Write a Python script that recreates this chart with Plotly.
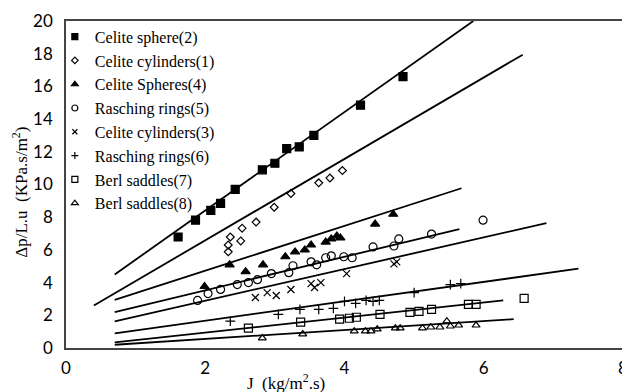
import plotly.graph_objects as go

# ---------------- data ----------------
names = ["Celite sphere(2)", "Celite cylinders(1)", "Celite Spheres(4)", "Rasching rings(5)",
         "Celite cylinders(3)", "Rasching rings(6)", "Berl saddles(7)", "Berl saddles(8)"]

sphere2_x = [1.61, 1.86, 2.08, 2.22, 2.43, 2.82, 3.00, 3.17, 3.35, 3.56, 4.23, 4.84]
sphere2_y = [6.79, 7.82, 8.42, 8.85, 9.70, 10.9, 11.3, 12.2, 12.3, 13.0, 14.85, 16.6]

cyl1_x = [2.33, 2.33, 2.36, 2.51, 2.53, 2.73, 2.99, 3.23, 3.63, 3.79, 3.97]
cyl1_y = [5.88, 6.30, 6.79, 6.55, 7.33, 7.70, 8.61, 9.45, 10.1, 10.4, 10.85]

sph4_x = [1.99, 2.35, 2.58, 2.83, 3.15, 3.29, 3.43, 3.52, 3.73, 3.81, 3.89, 3.94, 4.44, 4.70]
sph4_y = [3.76, 5.09, 4.67, 5.09, 5.58, 5.88, 6.00, 6.30, 6.48, 6.67, 6.85, 6.73, 7.58, 8.18]

ras5_x = [1.89, 2.04, 2.22, 2.46, 2.62, 2.75, 2.95, 3.20, 3.26, 3.52, 3.60, 3.73, 3.81, 3.99,
          4.11, 4.41, 4.71, 4.78, 5.25, 5.99]
ras5_y = [2.91, 3.33, 3.58, 3.88, 4.00, 4.18, 4.55, 4.61, 5.03, 5.27, 5.09, 5.52, 5.64, 5.58,
          5.52, 6.18, 6.24, 6.67, 6.97, 7.82]

cyl3_x = [2.72, 2.89, 3.02, 3.23, 3.52, 3.57, 3.66, 4.03, 4.71, 4.75]
cyl3_y = [3.09, 3.39, 3.21, 3.58, 3.94, 3.70, 4.00, 4.55, 5.15, 5.27]

ras6_x = [2.36, 3.05, 3.36, 3.63, 3.84, 4.00, 4.16, 4.31, 4.41, 4.50, 5.00, 5.52, 5.67]
ras6_y = [1.64, 2.06, 2.36, 2.36, 2.42, 2.85, 2.73, 2.91, 2.85, 2.91, 3.39, 3.88, 3.94]

berl7_x = [2.62, 3.37, 3.93, 4.07, 4.17, 4.51, 4.94, 5.07, 5.25, 5.78, 5.89, 6.58]
berl7_y = [1.21, 1.58, 1.76, 1.82, 1.88, 2.06, 2.18, 2.24, 2.36, 2.67, 2.67, 3.03]

berl8_x = [2.82, 3.40, 4.14, 4.30, 4.38, 4.47, 4.73, 4.80, 5.12, 5.24, 5.37, 5.47, 5.52, 5.64, 5.89]
berl8_y = [0.61, 0.85, 1.03, 1.03, 1.03, 1.15, 1.21, 1.21, 1.21, 1.27, 1.27, 1.64, 1.33, 1.39, 1.39]

# fitted trend lines: start / end points
line_x0 = [0.70, 0.40, 0.70, 0.70, 0.70, 0.70, 0.70, 0.70]
line_y0 = [4.50, 2.60, 2.95, 2.20, 1.63, 0.90, 0.34, 0.20]
line_x1 = [5.85, 6.56, 5.68, 5.65, 6.90, 7.36, 6.28, 6.43]
line_y1 = [20.0, 17.94, 9.77, 7.27, 7.64, 4.85, 2.91, 1.76]

x_ticks = [0, 2, 4, 6, 8]
y_ticks = [0, 2, 4, 6, 8, 10, 12, 14, 16, 18, 20]

xs = [sphere2_x, cyl1_x, sph4_x, ras5_x, cyl3_x, ras6_x, berl7_x, berl8_x]
ys = [sphere2_y, cyl1_y, sph4_y, ras5_y, cyl3_y, ras6_y, berl7_y, berl8_y]

symbols = ["square", "diamond-open", "triangle-up", "circle-open",
           "x-thin-open", "cross-thin-open", "square-open", "triangle-up-open"]
sizes = [8, 6, 8, 8, 7, 7, 8, 7]
leg_sizes = [6, 5, 6, 6, 5, 5, 6, 6]

fig = go.Figure()
for i in range(8):
    fig.add_trace(go.Scatter(
        x=[line_x0[i], line_x1[i]], y=[line_y0[i], line_y1[i]], mode="lines",
        line=dict(color="black", width=1.8), showlegend=False, hoverinfo="skip"))
for i in range(8):
    fig.add_trace(go.Scatter(
        x=xs[i], y=ys[i], mode="markers", name=names[i], showlegend=False,
        marker=dict(symbol=symbols[i], size=sizes[i], color="black",
                    line=dict(color="black", width=1.2))))
# legend entries (small symbols as in the reference legend)
for i in range(8):
    fig.add_trace(go.Scatter(
        x=[None], y=[None], mode="markers", name=names[i],
        marker=dict(symbol=symbols[i], size=leg_sizes[i], color="black",
                    line=dict(color="black", width=1.2))))

fig.update_layout(
    width=622, height=384,
    margin=dict(l=58, r=2, t=10, b=44),
    paper_bgcolor="white", plot_bgcolor="white",
    showlegend=True,
    legend=dict(x=-0.02, y=1.004, xanchor="left", yanchor="top",
                bgcolor="rgba(0,0,0,0)", borderwidth=0, maxheight=1,
                font=dict(family="Liberation Serif", size=16, color="black"),
                itemwidth=30, tracegroupgap=0),
    font=dict(family="Lato", color="black"),
    annotations=[
        dict(text="J  (kg/m<sup>2</sup>.s)", xref="paper", yref="paper",
             x=0.395, y=0, xanchor="center", yanchor="top", yshift=-21,
             showarrow=False,
             font=dict(family="Liberation Serif", size=17, color="black")),
        dict(text="Δp/L.u  (KPa.s/m<sup>2</sup>)", xref="paper", yref="paper",
             x=0, y=0.475, xanchor="center", yanchor="middle", xshift=-46,
             textangle=-90, showarrow=False,
             font=dict(family="Liberation Serif", size=17, color="black")),
    ],
)
fig.update_xaxes(range=[0, 8], tickvals=x_ticks, showgrid=False, zeroline=False,
                 showline=True, linecolor="#444", linewidth=1.5, mirror=True,
                 ticks="", ticklabelstandoff=4, ticklabeloverflow="allow",
                 tickfont=dict(family="Lato", size=17, color="black"))
fig.update_yaxes(range=[0, 20], tickvals=y_ticks, showgrid=False, zeroline=False,
                 showline=True, linecolor="#444", linewidth=1.5, mirror=True,
                 ticks="", ticklabelstandoff=8, ticklabeloverflow="allow",
                 tickfont=dict(family="Lato", size=17, color="black"))

fig.write_html("out.html")
